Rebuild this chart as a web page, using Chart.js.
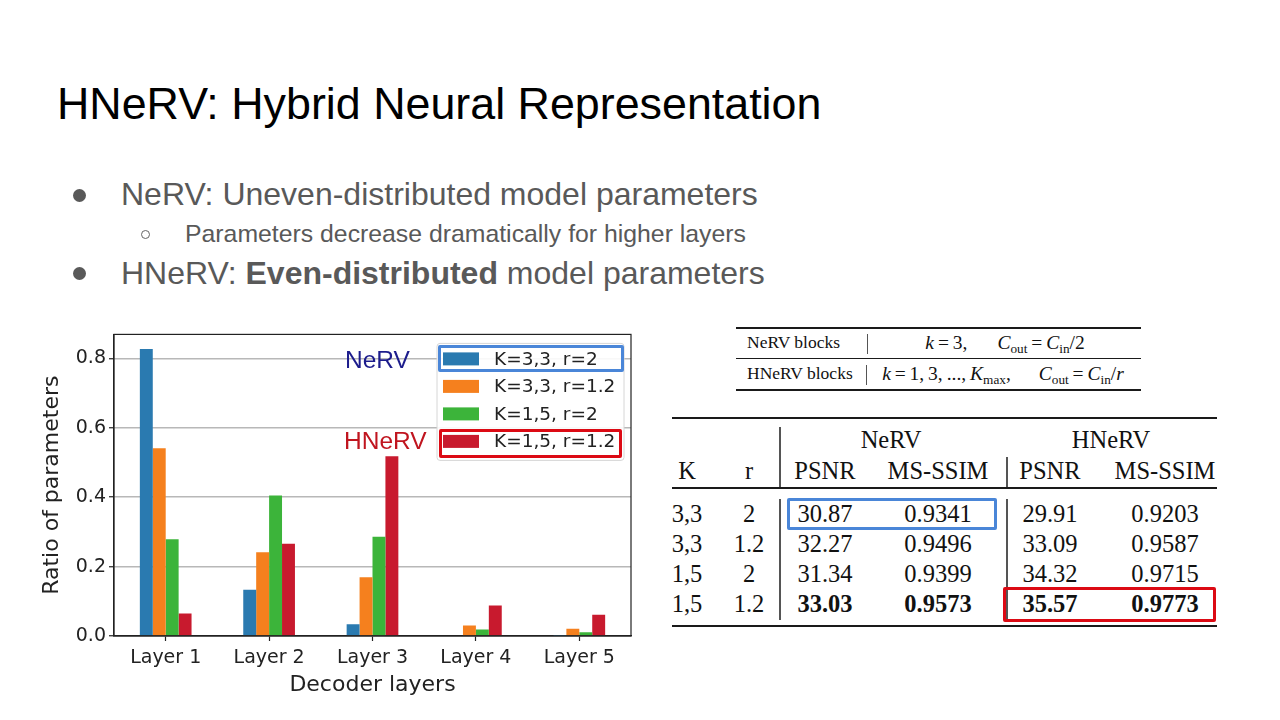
<!DOCTYPE html>
<html><head><meta charset="utf-8">
<script src="https://cdn.jsdelivr.net/npm/chart.js@4.4.1/dist/chart.umd.min.js"></script>
<style>
html,body{margin:0;padding:0;background:#fff;}
#slide{position:relative;width:1280px;height:720px;overflow:hidden;background:#fff;font-family:'Liberation Sans',Arial,sans-serif;}
.t{position:absolute;white-space:nowrap;line-height:1;}
.rule{position:absolute;background:#1a1a1a;}
.vl{position:absolute;background:#555;width:1.3px;}
.box{position:absolute;box-sizing:border-box;border-radius:2px;}
.serif{font-family:'Liberation Serif','Times New Roman',serif;color:#111;}
sub{font-size:0.68em;vertical-align:-0.3em;line-height:0;}
</style></head><body><div id="slide">
<div id="chartWrap" style="position:absolute;left:30px;top:320px;width:615px;height:385px;"><canvas id="c" width="615" height="385"></canvas></div>
</div>
<script>
// ---- chart data ----
const layers = ['Layer 1', 'Layer 2', 'Layer 3', 'Layer 4', 'Layer 5'];
const seriesLabels = ['K=3,3, r=2', 'K=3,3, r=1.2', 'K=1,5, r=2', 'K=1,5, r=1.2'];
const k33r2  = [0.827, 0.133, 0.034, 0.002, 0.001];
const k33r12 = [0.541, 0.241, 0.169, 0.030, 0.021];
const k15r2  = [0.279, 0.405, 0.286, 0.019, 0.011];
const k15r12 = [0.065, 0.266, 0.518, 0.088, 0.061];
const yTicks = [0.0, 0.2, 0.4, 0.6, 0.8];

// ---- table data ----
const tableK = ['3,3', '3,3', '1,5', '1,5'];
const tableR = ['2', '1.2', '2', '1.2'];
const nervPSNR = ['30.87', '32.27', '31.34', '33.03'];
const nervMSSSIM = ['0.9341', '0.9496', '0.9399', '0.9573'];
const hnervPSNR = ['29.91', '33.09', '34.32', '35.57'];
const hnervMSSSIM = ['0.9203', '0.9587', '0.9715', '0.9773'];

const slide = document.getElementById('slide');
function txt(html, x, y, o) {
  o = o || {};
  const d = document.createElement('div');
  d.className = 't' + (o.cls ? ' ' + o.cls : '');
  d.innerHTML = html;
  d.style.left = x + 'px';
  d.style.top = y + 'px';
  d.style.fontSize = (o.size || 20) + 'px';
  if (o.color) d.style.color = o.color;
  if (o.weight) d.style.fontWeight = o.weight;
  const tx = o.align === 'center' ? '-50%' : (o.align === 'right' ? '-100%' : '0');
  d.style.transform = 'translate(' + tx + ',-50%)' + (o.sx ? ' scaleX(' + o.sx + ')' : '');
  d.style.transformOrigin = o.align === 'center' ? 'center' : 'left';
  slide.appendChild(d);
  return d;
}
function div(cls, l, t, w, h, style) {
  const d = document.createElement('div');
  d.className = cls;
  d.style.left = l + 'px'; d.style.top = t + 'px';
  d.style.width = w + 'px'; d.style.height = h + 'px';
  if (style) Object.assign(d.style, style);
  slide.appendChild(d);
  return d;
}

// ---- slide text ----
txt('HNeRV: Hybrid Neural Representation', 57, 103, {size: 44.8, color: '#000'});
div('box', 73, 189, 13, 13, {background: '#595959', borderRadius: '50%'});
txt('NeRV: Uneven-distributed model parameters', 121, 194, {size: 32, color: '#595959'});
div('box', 140.5, 229.5, 9, 9, {border: '1.2px solid #666', borderRadius: '50%'});
txt('Parameters decrease dramatically for higher layers', 185, 234, {size: 24.8, color: '#595959'});
div('box', 73, 267, 13, 13, {background: '#595959', borderRadius: '50%'});
txt('HNeRV: <b>Even-distributed</b> model parameters', 121, 273, {size: 32, color: '#595959'});

// ---- small table ----
div('rule', 736, 327, 405, 1.8);
div('rule', 736, 358, 405, 1.2);
div('rule', 736, 389, 405, 1.8);
div('vl', 867, 334, 1.3, 20);
div('vl', 866, 365, 1.3, 20);
txt('NeRV blocks', 747, 343, {size: 17.5, cls: 'serif'});
txt('HNeRV blocks', 747, 374, {size: 17.5, cls: 'serif'});
txt('<i>k</i>&thinsp;=&thinsp;3,<span style="display:inline-block;width:30px"></span><i>C</i><sub>out</sub>&thinsp;=&thinsp;<i>C</i><sub>in</sub>/2', 1005, 343, {size: 19.5, cls: 'serif', align: 'center'});
txt('<i>k</i>&thinsp;=&thinsp;1,&thinsp;3,&thinsp;...,&thinsp;<i>K</i><sub>max</sub>,<span style="display:inline-block;width:28px"></span><i>C</i><sub>out</sub>&thinsp;=&thinsp;<i>C</i><sub>in</sub>/<i>r</i>', 1003, 374, {size: 19.5, cls: 'serif', align: 'center'});

// ---- main table ----
div('rule', 672, 417, 545, 2);
div('rule', 672, 487, 545, 1.5);
div('rule', 672, 625, 545, 2);
div('vl', 779, 427, 1.5, 60);
div('vl', 779, 499, 1.5, 121);
div('vl', 1006, 457, 1.5, 30);
div('vl', 1006, 499, 1.5, 121);
const colX = {K: 687, r: 749, np: 825, nm: 938, hp: 1050, hm: 1165};
const fs = 24.5;
txt('NeRV', 891, 440, {size: fs, cls: 'serif', align: 'center'});
txt('HNeRV', 1111, 440, {size: fs, cls: 'serif', align: 'center'});
[['K', colX.K], ['r', colX.r], ['PSNR', colX.np], ['MS-SSIM', colX.nm], ['PSNR', colX.hp], ['MS-SSIM', colX.hm]]
  .forEach(([s, x]) => txt(s, x, 471, {size: fs, cls: 'serif', align: 'center'}));
const rowY = [514, 544, 574, 604];
rowY.forEach((y, i) => {
  const w = i === 3 ? 'bold' : null;
  txt(tableK[i], colX.K, y, {size: fs, cls: 'serif', align: 'center'});
  txt(tableR[i], colX.r, y, {size: fs, cls: 'serif', align: 'center'});
  txt(nervPSNR[i], colX.np, y, {size: fs, cls: 'serif', align: 'center', weight: w});
  txt(nervMSSSIM[i], colX.nm, y, {size: fs, cls: 'serif', align: 'center', weight: w});
  txt(hnervPSNR[i], colX.hp, y, {size: fs, cls: 'serif', align: 'center', weight: w});
  txt(hnervMSSSIM[i], colX.hm, y, {size: fs, cls: 'serif', align: 'center', weight: w});
});
div('box', 787, 498, 210, 32, {border: '3px solid #4a86d8'});
div('box', 1003, 587, 213, 35, {border: '3.5px solid #dc0a14'});

// ---- chart ----
const colors = ['#2a7ab0', '#f5801e', '#3cb43a', '#c81a2e'];
const seriesValues = [k33r2, k33r12, k15r2, k15r12];

const frameAndLegend = {
  id: 'frameAndLegend',
  afterDraw(chart) {
    const {ctx, chartArea: a} = chart;
    ctx.save();
    ctx.strokeStyle = '#222';
    ctx.lineWidth = 1.2;
    ctx.strokeRect(a.left, a.top, a.right - a.left, a.bottom - a.top);
    const fx = a.left + 323, fy = a.top + 9, fw = 187, fh = 117;
    ctx.beginPath();
    ctx.roundRect(fx, fy, fw, fh, 3);
    ctx.fillStyle = 'rgba(255,255,255,0.9)';
    ctx.fill();
    ctx.strokeStyle = '#d6d6d6';
    ctx.lineWidth = 1;
    ctx.stroke();
    ctx.font = '18.5px "DejaVu Sans"';
    ctx.textBaseline = 'middle';
    chart.data.datasets.forEach((ds, i) => {
      const cy = fy + 15.5 + i * 27.5;
      ctx.fillStyle = ds.backgroundColor;
      ctx.fillRect(fx + 6, cy - 6.5, 36, 13);
      ctx.fillStyle = '#222';
      ctx.fillText(ds.label, fx + 57, cy + 1);
    });
    ctx.restore();
  }
};

new Chart(document.getElementById('c'), {
  type: 'bar',
  data: {
    labels: layers,
    datasets: seriesValues.map((vals, i) => ({
      label: seriesLabels[i],
      data: vals,
      backgroundColor: colors[i],
      borderWidth: 0
    }))
  },
  options: {
    responsive: false,
    animation: false,
    devicePixelRatio: 1,
    layout: {padding: {left: 0, right: 14, top: 14, bottom: 0}},
    datasets: {bar: {categoryPercentage: 0.5, barPercentage: 1.0}},
    plugins: {legend: {display: false}, tooltip: {enabled: false}},
    scales: {
      x: {
        grid: {display: true, drawOnChartArea: false, offset: false, tickColor: '#222', tickLength: 5, tickWidth: 1.2},
        border: {display: true, color: '#222', width: 1.2},
        ticks: {font: {family: 'DejaVu Sans', size: 19}, color: '#222', padding: 6, maxRotation: 0, autoSkip: false},
        title: {display: true, text: 'Decoder layers', font: {family: 'DejaVu Sans', size: 22}, color: '#222', padding: {top: 0, bottom: 7}},
        afterFit: s => { s.height = 69; }
      },
      y: {
        min: 0,
        max: 0.869,
        grid: {color: '#b8b8b8', lineWidth: 1.5, tickColor: '#222', tickLength: 5, tickWidth: 1.2},
        border: {display: true, color: '#222', width: 1.2},
        ticks: {font: {family: 'DejaVu Sans', size: 19}, color: '#222', padding: 3, stepSize: 0.2, includeBounds: false,
                callback: v => Number(v).toFixed(1)},
        afterBuildTicks: s => { s.ticks = yTicks.map(v => ({value: v})); },
        title: {display: true, text: 'Ratio of parameters', font: {family: 'DejaVu Sans', size: 22}, color: '#222', padding: {top: 9, bottom: 0}},
        afterFit: s => { s.width = 84; }
      }
    }
  },
  plugins: [frameAndLegend]
});

// ---- chart annotations ----
txt('NeRV', 345, 360, {size: 24.5, color: '#1c1c8c'});
txt('HNeRV', 344, 441, {size: 24.5, color: '#c0151f'});
div('box', 438, 345, 186, 27, {border: '3px solid #4a86d8'});
div('box', 439, 429, 183, 29, {border: '3px solid #dc0a14'});
</script>
</body></html>
